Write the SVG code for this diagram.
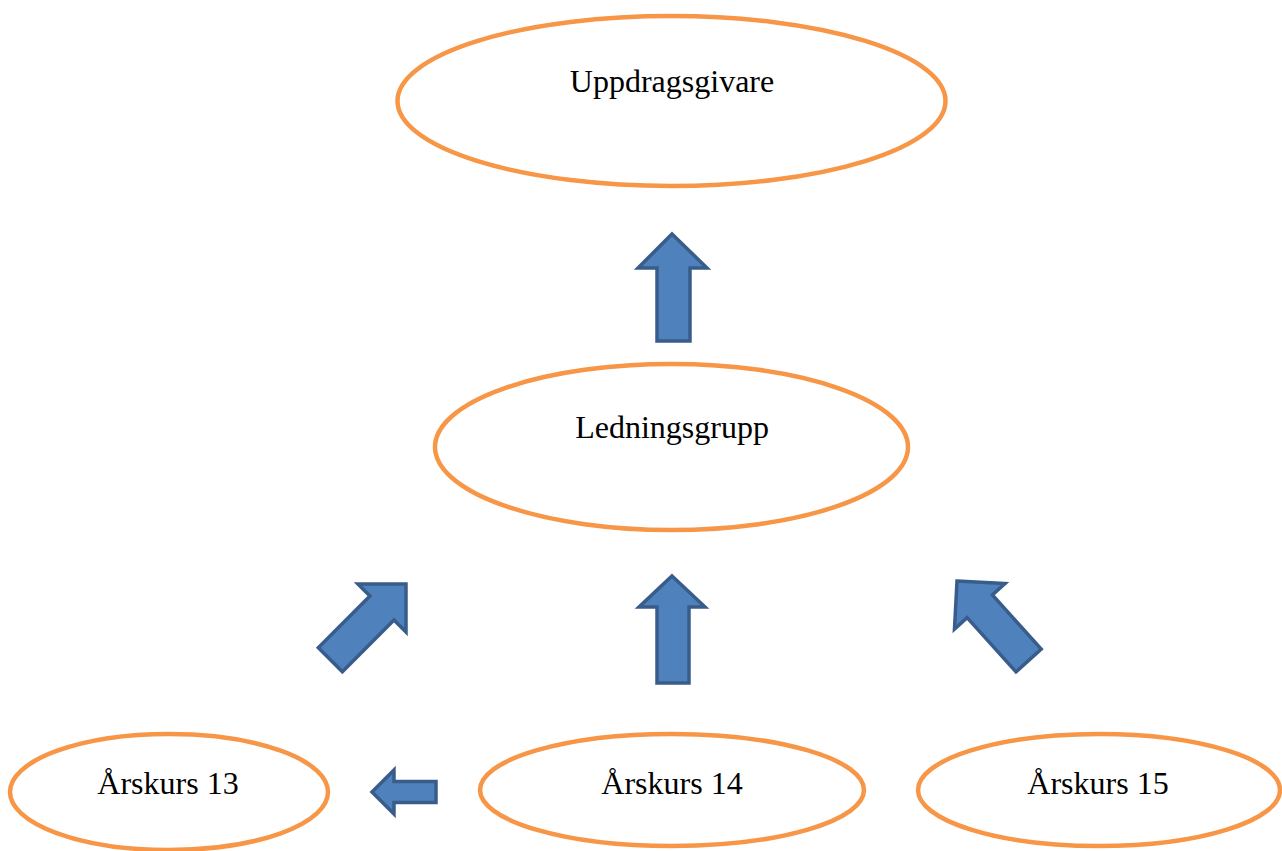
<svg xmlns="http://www.w3.org/2000/svg" width="1282" height="851" viewBox="0 0 1282 851">
<style>
.node ellipse{fill:#fff;stroke:#F79646;stroke-width:4.5}
.node text{font-family:"Liberation Serif","Times New Roman",serif;font-size:32px;fill:#000;text-anchor:middle}
.arrow{fill:#4F81BD;stroke:#385D8A;stroke-width:3.5;stroke-linejoin:miter}
</style>
<defs>
<path id="bigArrow" d="M0,0 L34,34 L17,34 L17,107 L-17,107 L-17,34 L-34,34 Z"/>
</defs>
<rect width="1282" height="851" fill="#fff"/>
<g id="uppdragsgivare" class="node">
<ellipse cx="671.5" cy="101" rx="274" ry="85"/>
<text x="672" y="92">Uppdragsgivare</text>
</g>
<g id="ledningsgrupp" class="node">
<ellipse cx="671.5" cy="447" rx="236.5" ry="83"/>
<text x="672" y="438">Ledningsgrupp</text>
</g>
<g id="arskurs13" class="node">
<ellipse cx="169" cy="792" rx="159" ry="58"/>
<text x="168" y="794">Årskurs 13</text>
</g>
<g id="arskurs14" class="node">
<ellipse cx="672" cy="790" rx="192" ry="56"/>
<text x="672" y="794">Årskurs 14</text>
</g>
<g id="arskurs15" class="node">
<ellipse cx="1099" cy="790" rx="181" ry="56"/>
<text x="1098" y="794">Årskurs 15</text>
</g>
<g id="connectors">
<path class="arrow" d="M672,234 L707,268 L690,268 L690,341 L657,341 L657,268 L638,268 Z"/>
<path class="arrow" d="M672,576 L705,607 L689,607 L689,683 L657,683 L657,607 L639,607 Z"/>
<use class="arrow" href="#bigArrow" transform="translate(406,584) rotate(45)"/>
<use class="arrow" href="#bigArrow" transform="translate(957,581) rotate(-42)"/>
<path class="arrow" d="M372,792 L394,770 L394,781.5 L436,781.5 L436,802.5 L394,802.5 L394,814 Z"/>
</g>
</svg>
